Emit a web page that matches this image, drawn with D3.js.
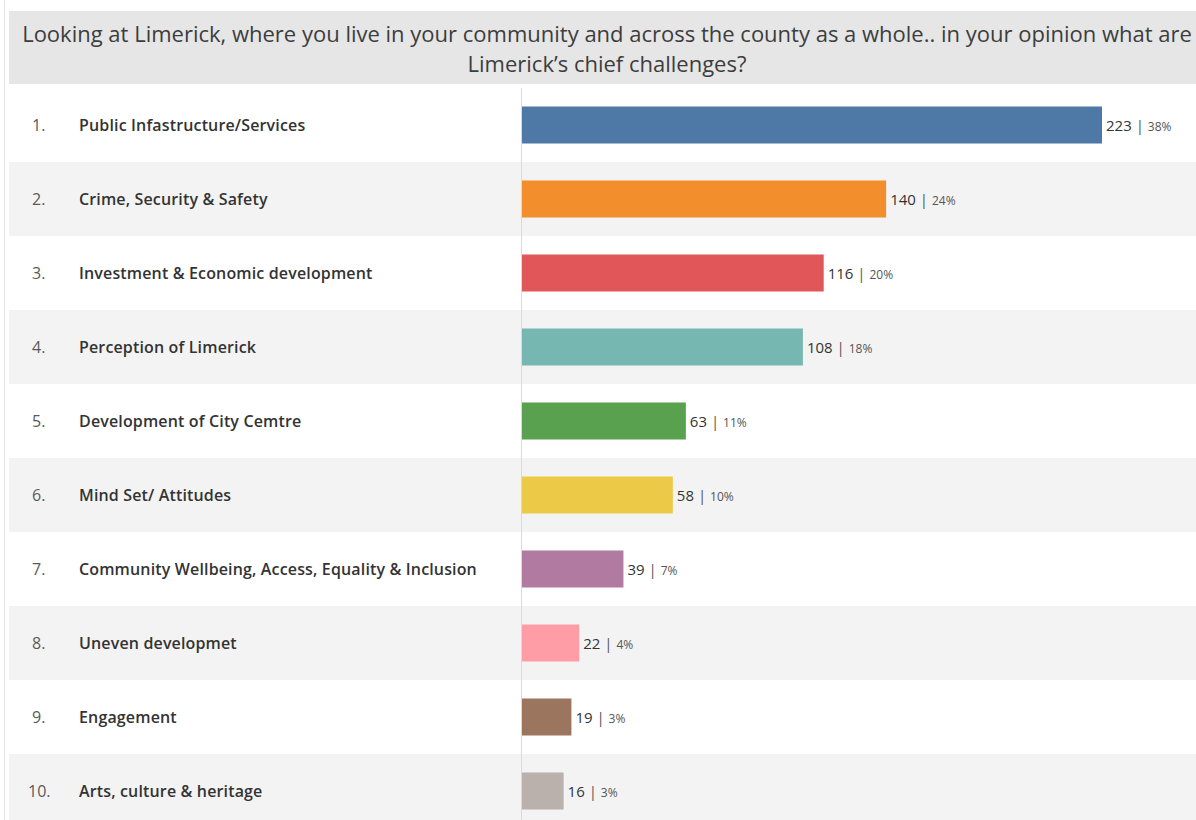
<!DOCTYPE html>
<html>
<head>
<meta charset="utf-8">
<script src="https://cdn.jsdelivr.net/npm/d3@7"></script>
<style>
  html, body { margin: 0; padding: 0; background: #fff; }
  svg { display: block; }
</style>
</head>
<body>
<svg id="chart" width="1196" height="820"></svg>
<script>
// Survey responses: chief challenges for Limerick
const ranks = ["1.", "2.", "3.", "4.", "5.", "6.", "7.", "8.", "9.", "10."];
const categories = [
  "Public Infastructure/Services",
  "Crime, Security & Safety",
  "Investment & Economic development",
  "Perception of Limerick",
  "Development of City Cemtre",
  "Mind Set/ Attitudes",
  "Community Wellbeing, Access, Equality & Inclusion",
  "Uneven developmet",
  "Engagement",
  "Arts, culture & heritage"
];
const counts = [223, 140, 116, 108, 63, 58, 39, 22, 19, 16];
const percents = ["38%", "24%", "20%", "18%", "11%", "10%", "7%", "4%", "3%", "3%"];
const colors = ["#4e79a7", "#f28e2b", "#e15759", "#76b7b2", "#59a14f",
                "#edc948", "#b07aa1", "#ff9da7", "#9c755f", "#bab0ac"];
const title = [
  "Looking at Limerick, where you live in your community and across the county as a whole.. in your opinion what are",
  "Limerick\u2019s chief challenges?"
];

const W = 1196, H = 820;
const svg = d3.select("#chart");
const font = "'Open Sans', 'Noto Sans', sans-serif";

// frame line on the left edge
svg.append("line")
  .attr("x1", 4.5).attr("x2", 4.5).attr("y1", 0).attr("y2", H)
  .attr("stroke", "#e3e3e3").attr("stroke-width", 1);

// title band
svg.append("rect")
  .attr("x", 9).attr("y", 11).attr("width", W - 9).attr("height", 73)
  .attr("fill", "#e6e6e6");

svg.append("text")
  .attr("text-anchor", "middle")
  .attr("font-family", font).attr("font-size", 22).attr("fill", "#3d3d3d")
  .selectAll("tspan").data(title).join("tspan")
  .attr("x", 607).attr("y", (d, i) => 42 + i * 30)
  .text(d => d);

// rows
const rowTop = 88, rowH = 74;
const y = d3.scaleBand()
  .domain(categories)
  .range([rowTop, rowTop + rowH * categories.length])
  .paddingInner(0).paddingOuter(0);

const x = d3.scaleLinear()
  .domain([0, 223])
  .range([522, 1102]);

const rows = svg.append("g").selectAll("g").data(categories).join("g");

rows.append("rect")
  .attr("x", 9).attr("y", d => y(d))
  .attr("width", W - 9).attr("height", y.bandwidth())
  .attr("fill", (d, i) => i % 2 ? "#f3f3f3" : "#ffffff");

// zero line
svg.append("line")
  .attr("x1", x(0) - 0.5).attr("x2", x(0) - 0.5)
  .attr("y1", rowTop).attr("y2", H)
  .attr("stroke", "#d9d9d9").attr("stroke-width", 1);

const cy = d => y(d) + y.bandwidth() / 2;

rows.append("text")
  .attr("x", (d, i) => i === 9 ? 28 : 32).attr("y", d => cy(d))
  .attr("dy", "0.35em")
  .attr("font-family", font).attr("font-size", 16).attr("fill", "#5a5a5a")
  .text((d, i) => ranks[i]);

rows.append("text")
  .attr("x", 79).attr("y", d => cy(d))
  .attr("dy", "0.35em")
  .attr("font-family", font).attr("font-size", 16).attr("font-weight", 600)
  .attr("letter-spacing", 0.15)
  .attr("fill", "#333333")
  .text(d => d);

const barH = 37;
rows.append("rect")
  .attr("x", x(0))
  .attr("y", d => cy(d) - barH / 2)
  .attr("width", (d, i) => x(counts[i]) - x(0))
  .attr("height", barH)
  .attr("fill", (d, i) => colors[i]);

const lbl = rows.append("text")
  .attr("x", (d, i) => x(counts[i]) + 4)
  .attr("y", d => cy(d))
  .attr("dy", "0.35em")
  .attr("font-family", font);

lbl.append("tspan").attr("font-size", 15).attr("fill", "#333")
  .text((d, i) => counts[i]);
lbl.append("tspan").attr("font-size", 15).attr("fill", "#555")
  .text(" | ");
lbl.append("tspan").attr("font-size", 12).attr("fill", "#555")
  .text((d, i) => percents[i]);
</script>
</body>
</html>
